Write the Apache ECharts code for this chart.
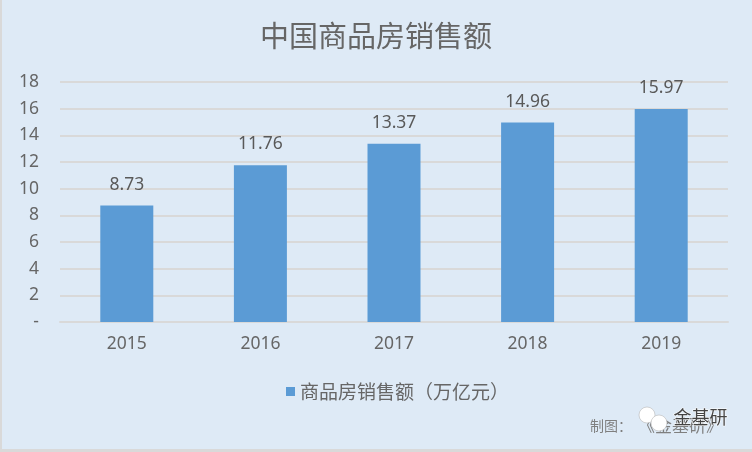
<!DOCTYPE html>
<html>
<head>
<meta charset="utf-8">
<style>
  html, body { margin: 0; padding: 0; background: #fff; }
  #main { width: 752px; height: 452px; }
</style>
<script src="https://cdn.jsdelivr.net/npm/echarts@6/dist/echarts.min.js"></script>
</head>
<body>
<div id="main"></div>
<script>
const years = ['2015', '2016', '2017', '2018', '2019'];
const sales = [8.73, 11.76, 13.37, 14.96, 15.97];
const seriesName = '商品房销售额（万亿元）';
const chartTitle = '中国商品房销售额';

const font = '"Noto Sans CJK SC", "Noto Sans", sans-serif';
const numFont = '"Noto Sans", "Open Sans", sans-serif';
const grey = '#666666';

const myChart = echarts.init(document.getElementById('main'));
myChart.setOption({
  backgroundColor: '#deeaf6',
  animation: false,
  title: {
    text: chartTitle,
    left: 'center',
    top: 16,
    textStyle: { fontFamily: font, fontSize: 29, fontWeight: 'normal', color: grey }
  },
  legend: {
    data: [seriesName],
    bottom: 46,
    left: 281,
    icon: 'rect',
    itemWidth: 9,
    itemHeight: 9,
    itemGap: 5,
    selectedMode: false,
    textStyle: { fontFamily: font, fontSize: 19, color: grey }
  },
  grid: { left: 60, right: 24, top: 82, bottom: 130 },
  xAxis: {
    type: 'category',
    data: years,
    axisTick: { show: false },
    axisLine: { lineStyle: { color: '#d9d9d9', width: 2 } },
    axisLabel: { margin: 13, fontFamily: numFont, fontSize: 17.5, color: grey }
  },
  yAxis: {
    type: 'value',
    min: 0,
    max: 18,
    interval: 2,
    axisLine: { show: false },
    axisTick: { show: false },
    splitLine: { lineStyle: { color: '#d9d9d9', width: 2 } },
    axisLabel: {
      margin: 21,
      padding: [2, 0, 0, 0],
      fontFamily: numFont,
      fontSize: 17.5,
      color: grey,
      formatter: (v) => (v === 0 ? '-' : v)
    }
  },
  series: [
    {
      name: seriesName,
      type: 'bar',
      barWidth: 53,
      data: sales,
      itemStyle: { color: '#5b9bd5' },
      label: {
        show: true,
        position: 'top',
        distance: 12,
        fontFamily: numFont,
        fontSize: 17.5,
        color: '#595959',
        formatter: (p) => p.value.toFixed(2)
      }
    }
  ],
  // watermark at the bottom right
  graphic: [
    { type: 'rect', left: 0, top: 0, shape: { width: 2, height: 452 }, style: { fill: '#d9d9d9' } },
    { type: 'rect', left: 0, top: 449, shape: { width: 752, height: 3 }, style: { fill: '#d9d9d9' } },
    { type: 'text', left: 590, top: 419, style: { text: '制图：', font: '14px ' + font, fill: '#7f7f7f' } },
    { type: 'text', left: 638, top: 417, style: { text: '《金基研》', font: '17px ' + font, fill: '#7f7f7f' } },
    { type: 'circle', shape: { cx: 647, cy: 415, r: 8 }, style: { fill: '#fff', stroke: '#aaa', lineWidth: 0.5 } },
    { type: 'circle', shape: { cx: 659, cy: 423, r: 8 }, style: { fill: '#fff', stroke: '#aaa', lineWidth: 0.5 } },
    { type: 'text', left: 673, top: 408, style: { text: '金基研', font: '18px ' + font, fill: '#444', stroke: '#fff', lineWidth: 1 } }
  ]
});

window.addEventListener('resize', () => { myChart.resize(); });
</script>
</body>
</html>
